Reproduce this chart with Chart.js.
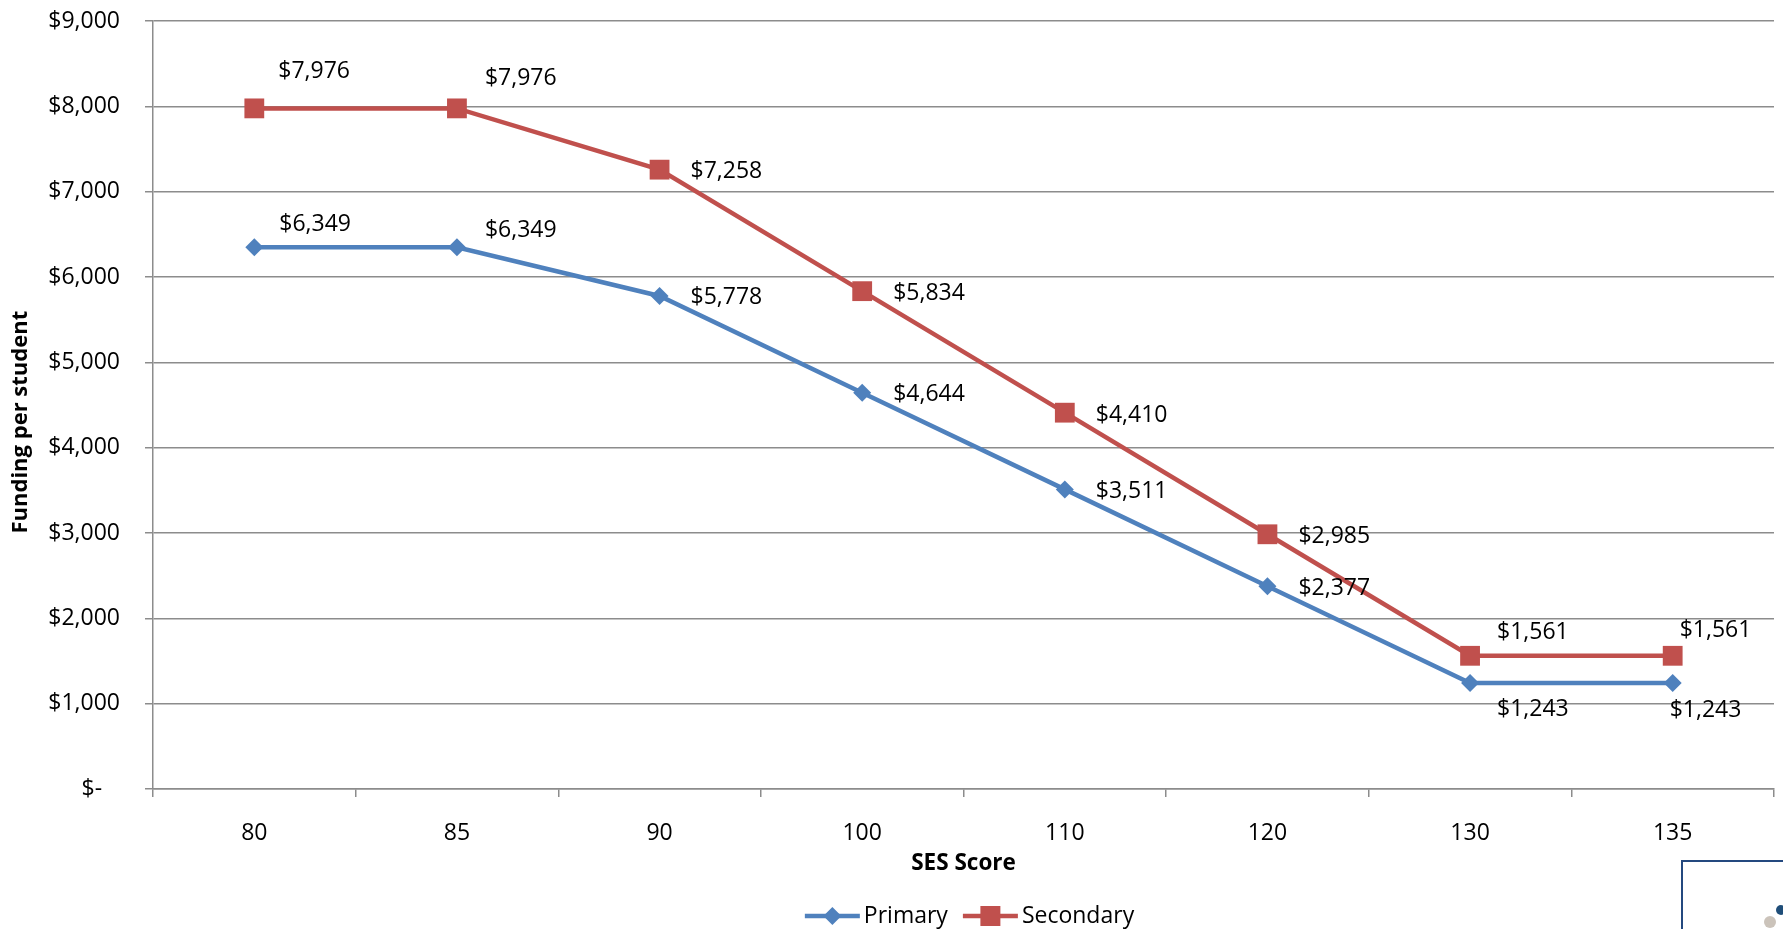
<!DOCTYPE html>
<html>
<head>
<meta charset="utf-8">
<title>Funding per student by SES Score</title>
<script src="https://cdn.jsdelivr.net/npm/chart.js@4.4.0/dist/chart.umd.min.js"></script>
<style>
    html, body { margin: 0; padding: 0; background: #fff; }
    #wrap { width: 1783px; height: 929px; position: relative; overflow: hidden; }
</style>
</head>
<body>
<div id="wrap">
    <canvas id="fundingChart" width="1783" height="929"></canvas>
</div>
<script>
// data
const sesScores = ['80', '85', '90', '100', '110', '120', '130', '135'];
const primaryFunding = [6349, 6349, 5778, 4644, 3511, 2377, 1243, 1243];
const secondaryFunding = [7976, 7976, 7258, 5834, 4410, 2985, 1561, 1561];
const yTickValues = [0, 1000, 2000, 3000, 4000, 5000, 6000, 7000, 8000, 9000];

// where each value label sits relative to its point (px)
const primaryLabelDx = [25, 28, 31, 31, 31, 31, 27, -3];
const primaryLabelDy = [-23, -17, 2, 2, 2, 2, 27, 28];
const secondaryLabelDx = [24, 28, 31, 31, 31, 31, 27, 7];
const secondaryLabelDy = [-37, -30, 2, 2, 3, 2, -23, -25];

const BLUE = '#4F81BD';
const RED = '#C0504D';
const GRID = '#8c8c8c';
const FONT = "'Open Sans', 'Liberation Sans', sans-serif";

function money(v) {
    if (v === 0) return '$-   ';
    return '$' + v.toLocaleString('en-US');
}

function drawMarker(ctx, style, x, y, color) {
    ctx.save();
    ctx.fillStyle = color;
    ctx.beginPath();
    if (style === 'rectRot') {
        ctx.moveTo(x, y - 9);
        ctx.lineTo(x + 9, y);
        ctx.lineTo(x, y + 9);
        ctx.lineTo(x - 9, y);
        ctx.closePath();
    } else {
        ctx.rect(x - 10, y - 10, 20, 20);
    }
    ctx.fill();
    ctx.restore();
}

// value labels next to each point
const valueLabels = {
    id: 'valueLabels',
    afterDatasetsDraw(chart) {
        const ctx = chart.ctx;
        const offsets = [
            [primaryLabelDx, primaryLabelDy],
            [secondaryLabelDx, secondaryLabelDy]
        ];
        ctx.save();
        ctx.font = '23px ' + FONT;
        ctx.fillStyle = '#000';
        ctx.textAlign = 'left';
        ctx.textBaseline = 'middle';
        chart.data.datasets.forEach((ds, di) => {
            const meta = chart.getDatasetMeta(di);
            meta.data.forEach((pt, i) => {
                ctx.fillText(money(ds.data[i]), pt.x + offsets[di][0][i], pt.y + offsets[di][1][i]);
            });
        });
        ctx.restore();
    }
};

// Excel style legend (line + marker) under the axis title, plus the cut-off logo box
const bottomLegend = {
    id: 'bottomLegend',
    afterDraw(chart) {
        const ctx = chart.ctx;
        const area = chart.chartArea;
        const y = 916;
        ctx.save();
        ctx.font = '23px ' + FONT;
        ctx.textBaseline = 'middle';
        ctx.textAlign = 'left';
        const ds = chart.data.datasets;
        const widths = ds.map(d => ctx.measureText(d.label).width);
        const total = widths.reduce((a, w) => a + 55 + 4 + w, 0) + 15;
        let x = (area.left + area.right) / 2 + 6 - total / 2;
        ds.forEach((d, i) => {
            ctx.strokeStyle = d.borderColor;
            ctx.lineWidth = 4.5;
            ctx.beginPath();
            ctx.moveTo(x, y);
            ctx.lineTo(x + 55, y);
            ctx.stroke();
            drawMarker(ctx, d.pointStyle, x + 27.5, y, d.borderColor);
            ctx.fillStyle = '#000';
            ctx.fillText(d.label, x + 59, y);
            x += 55 + 4 + widths[i] + 15;
        });

        // corner of a logo box, cut by the image edge
        ctx.strokeStyle = '#24497f';
        ctx.lineWidth = 2;
        ctx.beginPath();
        ctx.moveTo(1682, 940);
        ctx.lineTo(1682, 861);
        ctx.lineTo(1790, 861);
        ctx.stroke();
        ctx.fillStyle = '#1f4e79';
        ctx.beginPath();
        ctx.arc(1781, 910, 5, 0, Math.PI * 2);
        ctx.fill();
        ctx.fillStyle = '#cbc3ba';
        ctx.beginPath();
        ctx.arc(1770, 922, 6, 0, Math.PI * 2);
        ctx.fill();
        ctx.restore();
    }
};

new Chart(document.getElementById('fundingChart'), {
    type: 'line',
    data: {
        labels: sesScores,
        datasets: [
            {
                label: 'Primary',
                data: primaryFunding,
                borderColor: BLUE,
                backgroundColor: BLUE,
                borderWidth: 4.5,
                pointStyle: 'rectRot',
                pointRadius: 9,
                pointHoverRadius: 9,
                pointBorderWidth: 0,
                pointBackgroundColor: BLUE,
                tension: 0,
                clip: false
            },
            {
                label: 'Secondary',
                data: secondaryFunding,
                borderColor: RED,
                backgroundColor: RED,
                borderWidth: 4.5,
                pointStyle: 'rect',
                pointRadius: 14,
                pointHoverRadius: 14,
                pointBorderWidth: 0,
                pointBackgroundColor: RED,
                tension: 0,
                clip: false
            }
        ]
    },
    plugins: [valueLabels, bottomLegend],
    options: {
        responsive: false,
        animation: false,
        devicePixelRatio: 1,
        layout: { autoPadding: false, padding: { top: 21, right: 9, bottom: 30, left: 0 } },
        plugins: {
            legend: { display: false },
            tooltip: { enabled: false }
        },
        scales: {
            x: {
                type: 'category',
                offset: true,
                grid: {
                    offset: true,
                    drawOnChartArea: false,
                    drawTicks: true,
                    tickLength: 8,
                    color: GRID,
                    lineWidth: 1.5
                },
                border: { color: GRID, width: 1.5 },
                ticks: {
                    color: '#000',
                    padding: 23,
                    maxRotation: 0,
                    font: { family: FONT, size: 23 }
                },
                title: {
                    display: true,
                    text: 'SES Score',
                    color: '#000',
                    font: { family: FONT, size: 22.5, weight: 'bold' },
                    padding: { top: 0, bottom: 22 }
                },
                afterFit: s => {
                    s.height = 110;
                    s.paddingLeft = 0;
                    s.paddingRight = 0;
                }
            },
            y: {
                min: 0,
                max: 9000,
                afterBuildTicks: s => { s.ticks = yTickValues.map(v => ({ value: v })); },
                grid: {
                    color: GRID,
                    lineWidth: 1.5,
                    tickLength: 8
                },
                border: { color: GRID, width: 1.5 },
                ticks: {
                    color: '#000',
                    padding: 25,
                    font: { family: FONT, size: 23 },
                    callback: v => money(v)
                },
                title: {
                    display: true,
                    // trailing spaces push the title a little below the plot centre, as in the original
                    text: 'Funding per student      ',
                    color: '#000',
                    font: { family: FONT, size: 22, weight: 'bold' },
                    padding: { top: 8, bottom: 0 }
                },
                afterFit: s => {
                    s.width = 153;
                    s.paddingTop = 12;
                    s.paddingBottom = 12;
                }
            }
        }
    }
});
</script>
</body>
</html>
